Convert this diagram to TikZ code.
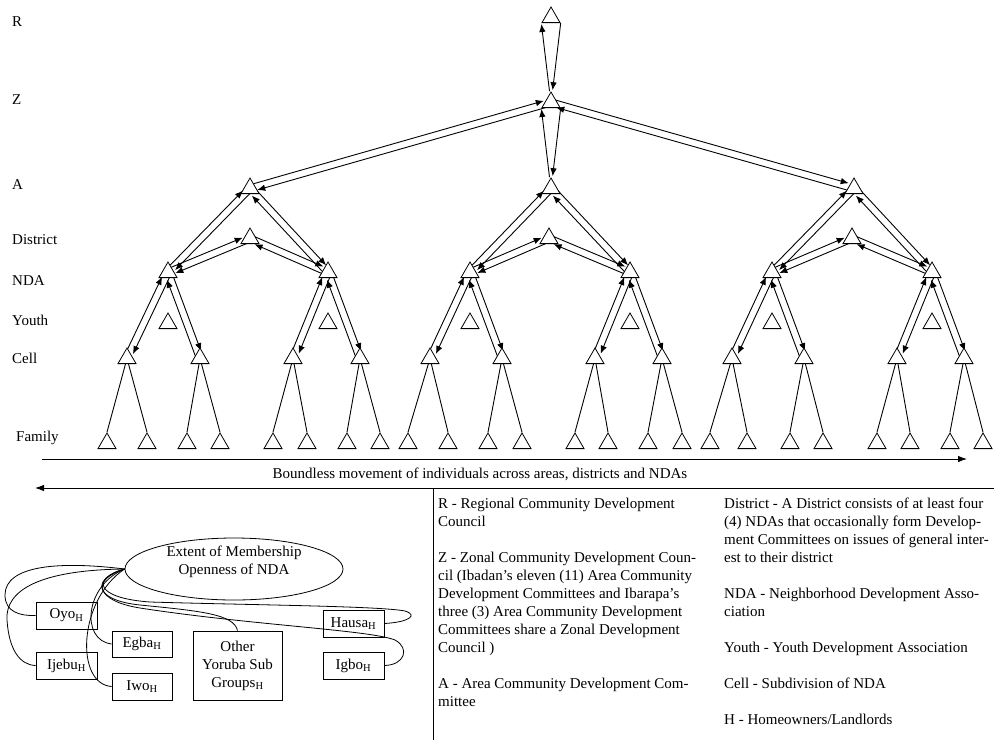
\documentclass[tikz,border=0pt]{standalone}
\usepackage{fontspec}
\setmainfont{Liberation Serif}
\usetikzlibrary{shapes.geometric,arrows.meta,calc}
\pgfdeclarelayer{links}
\pgfsetlayers{links,main}

% two opposite arrows between an upper node #1 and a lower node #2
\newcommand\twoway[2]{%
  \draw[link] ($(#2.center)!3.5pt!90:(#1.center)$) -- ($(#1.center)!3.5pt!-90:(#2.center)$);
  \draw[link] ($(#1.center)!3.5pt!90:(#2.center)$) -- ($(#2.center)!3.5pt!-90:(#1.center)$);
}
% two opposite arrows between a node #1 and the node #2 straight below it
\newcommand\twowayvert[2]{%
  \draw[link, shorten >=1pt] ($(#2.north)+(-1.5,0)$) -- (#1.corner 2);
  \draw[link, shorten >=1pt] (#1.corner 3) -- ($(#2.north)+(1.5,0)$);
}

\tikzset{
  tri/.style={regular polygon, regular polygon sides=3, draw, fill=white,
    inner sep=0pt, minimum size=20.8pt, line width=0.8pt},
  lvl/.style={anchor=west, inner sep=0pt},
  link/.style={line width=0.9pt, -{Latex[length=8pt,width=6.5pt]}, shorten >=6.5pt},
  plain/.style={line width=0.9pt},
  longarrow/.style={line width=0.9pt, -{Latex[length=9pt,width=6.5pt]}},
  grp/.style={draw, line width=0.8pt, inner sep=0pt, align=center},
  keytext/.style={anchor=north west, inner sep=0pt, align=left},
  curve/.style={line width=0.8pt}
}

\begin{document}
\begin{tikzpicture}[x=1pt,y=-1pt, every node/.style={font=\fontsize{15}{18}\selectfont}]
\useasboundingbox (0,0) rectangle (994,740);

% level names
\foreach \t/\yy/\xx in {R/22/12, Z/100/12, A/185/12, District/240/12, NDA/281/12, Youth/320/12, Cell/358/12, Family/438/16}
  \node[lvl] (lab\t) at (\xx,\yy) {\t};

% hierarchy of councils and associations
\node[tri] (R) at (551,17.4) {};
\node[tri] (Z) at (551,102.4) {};
\foreach \x [count=\i] in {250,551,854} \node[tri] (A\i) at (\x,188.4) {};
\foreach \x [count=\i] in {250,549,852} \node[tri] (D\i) at (\x,238.4) {};
\foreach \x [count=\i] in {168,328,470,630,772,932} {
  \node[tri] (N\i) at (\x,272.4) {};
  \node[tri] (Y\i) at (\x,323.4) {};
}
\foreach \x [count=\i] in {127,200,293,360,430,502,595,662,732,804,897,964}
  \node[tri] (C\i) at (\x,358.4) {};
\foreach \x [count=\i] in {107,147,187,220,273,307,347,380,408,448,488,522,575,608,648,682,710,747,790,823,877,910,950,983}
  \node[tri] (F\i) at (\x,443.4) {};

\begin{pgfonlayer}{links}
  \twowayvert{R}{Z}
  \twowayvert{Z}{A2}
  \twoway{Z}{A1}
  \twoway{Z}{A3}
  \foreach \a/\n in {1/1,1/2,2/3,2/4,3/5,3/6} {\twoway{A\a}{N\n}\twoway{D\a}{N\n}}
  \foreach \n/\c in {1/1,1/2,2/3,2/4,3/5,3/6,4/7,4/8,5/9,5/10,6/11,6/12} {\twoway{N\n}{C\c}}
  \foreach \c in {1,...,12} {
    \pgfmathtruncatemacro\fa{2*\c-1}
    \pgfmathtruncatemacro\fb{2*\c}
    \draw[plain] (C\c.center) -- (F\fa.north);
    \draw[plain] (C\c.center) -- (F\fb.north);
  }
\end{pgfonlayer}

% movement arrows
\coordinate (mvL) at (42,459);
\coordinate (mvR) at (967,459);
\draw[longarrow] (mvL) -- (mvR);
\node (mvtext) at (480,474) {Boundless movement of individuals across areas, districts and NDAs};
\coordinate (bkR) at (994,488);
\coordinate (bkL) at (35,488);
\draw[longarrow] (bkR) -- (bkL);
\coordinate (keyTop) at (433,488);
\coordinate (keyBot) at (433,740);
\draw[line width=0.9pt] (keyTop) -- (keyBot);

% membership openness
\node[draw, ellipse, line width=0.8pt, minimum width=218pt, minimum height=62pt, inner sep=0pt] (ext) at (234,569) {};
\node[align=center, inner sep=0pt] (exttext) at (234,562) {Extent of Membership\\Openness of NDA};
\node[grp, minimum width=61pt, minimum height=27pt] (oyo) at (66.5,615.5) {Oyo\textsubscript{H}};
\node[grp, minimum width=61pt, minimum height=27pt] (ijebu) at (66.5,665.5) {Ijebu\textsubscript{H}};
\node[grp, minimum width=60pt, minimum height=26pt] (egba) at (142,644) {Egba\textsubscript{H}};
\node[grp, minimum width=60pt, minimum height=27pt] (iwo) at (142,686.5) {Iwo\textsubscript{H}};
\node[grp, minimum width=89pt, minimum height=69pt] (other) at (237.5,665.5) {Other\\Yoruba Sub\\Groups\textsubscript{H}};
\node[grp, minimum width=61pt, minimum height=27pt] (hausa) at (353.5,623.5) {Hausa\textsubscript{H}};
\node[grp, minimum width=61pt, minimum height=27pt] (igbo) at (353.5,665.5) {Igbo\textsubscript{H}};

\draw[curve] (ext.west) .. controls (60,561) and (5,565) .. (5,595) .. controls (5,612) and (20,616) .. (oyo.west);
\draw[curve] (ext.west) .. controls (40,570) and (5,590) .. (7,620) .. controls (9,650) and (20,665) .. (ijebu.west);
\draw[curve] (ext.west) .. controls (85,585) and (80,640) .. (egba.west);
\draw[curve] (ext.west) .. controls (78,600) and (75,684) .. (iwo.west);
\draw[curve] (ext.west) .. controls (92,578) and (92,600) .. (140,605) .. controls (200,611) and (234,614) .. (other.north);
\draw[curve] (ext.west) .. controls (92,578) and (94,598) .. (150,602) .. controls (250,605) and (380,606) .. (405,611) .. controls (418,615) and (410,622) .. (hausa.east);
\draw[curve] (ext.west) .. controls (90,580) and (96,601) .. (140,608) .. controls (250,625) and (370,630) .. (395,640) .. controls (410,648) and (405,665) .. (igbo.east);

% key to the abbreviations
\node[keytext] (keyL) at (438,497.8) {R - Regional Community Development\\Council\\[18pt]Z - Zonal Community Development Coun-\\cil (Ibadan’s eleven (11) Area Community\\Development Committees and Ibarapa’s\\three (3) Area Community Development\\Committees share a Zonal Development\\Council )\\[18pt]A - Area Community Development Com-\\mittee};
\node[keytext] (keyR) at (724,497.8) {District - A District consists of at least four\\(4) NDAs that occasionally form Develop-\\ment Committees on issues of general inter-\\est to their district\\[18pt]NDA - Neighborhood Development Asso-\\ciation\\[18pt]Youth - Youth Development Association\\[18pt]Cell - Subdivision of NDA\\[18pt]H - Homeowners/Landlords};
\end{tikzpicture}
\end{document}
